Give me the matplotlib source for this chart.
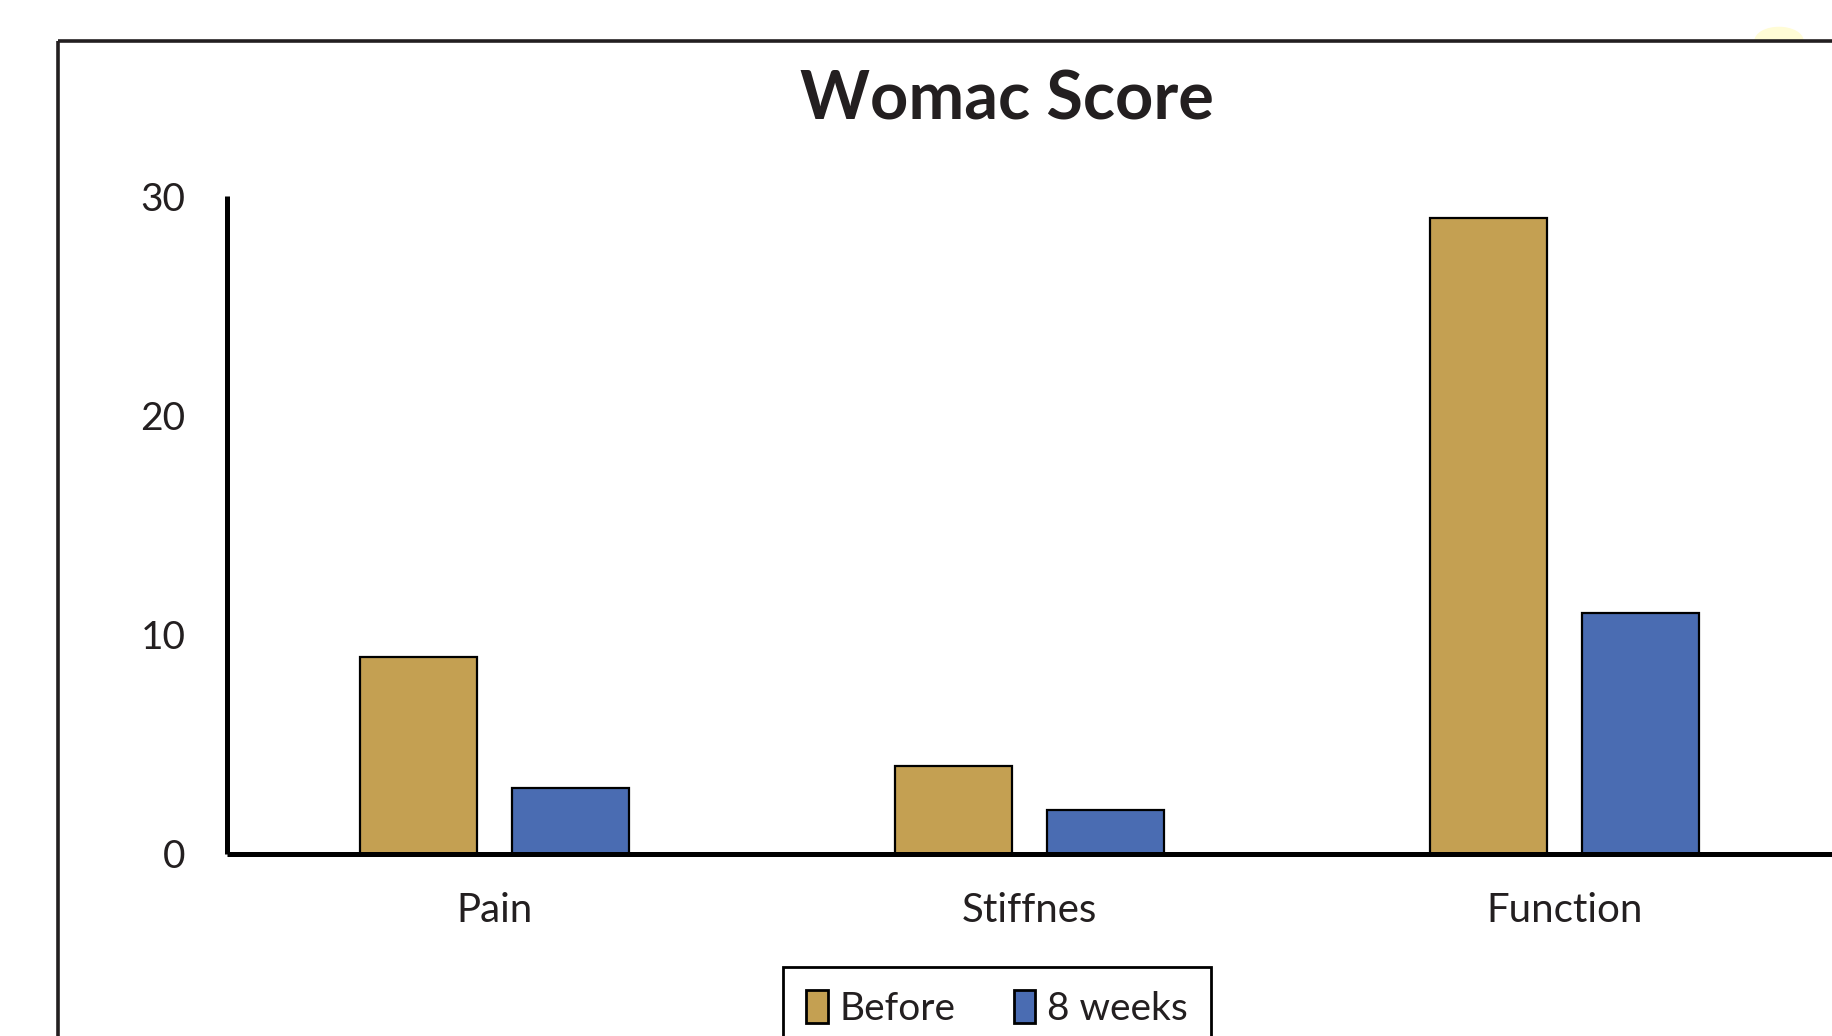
import numpy as np
import matplotlib
matplotlib.use("Agg")
import matplotlib.pyplot as plt
from matplotlib.patches import Wedge
from matplotlib.lines import Line2D

categories = ["Pain", "Stiffnes", "Function"]
before = [9, 4, 29]
after_8_weeks = [3, 2, 11]
series_names = ["Before", "8 weeks"]
y_ticks = [0, 10, 20, 30]

plt.rcParams['font.family'] = ['Lato', 'DejaVu Sans']
text_color = '#231f20'
gold = '#c4a052'
blue = '#4a6cb2'

W, H = 1832, 1036
fig = plt.figure(figsize=(W / 100, H / 100), dpi=100)

# outer frame (top and left edges only visible)
frame_x = 58 / W
frame_y = 1 - 41 / H
fig.add_artist(Line2D([frame_x, 1.0], [frame_y, frame_y], transform=fig.transFigure,
                      color=text_color, lw=2.6, solid_capstyle='butt'))
fig.add_artist(Line2D([frame_x, frame_x], [0, frame_y], transform=fig.transFigure,
                      color=text_color, lw=2.6, solid_capstyle='butt'))
# faint yellow blob peeking above the frame
fig.add_artist(Wedge((1779 / W, frame_y), 24 / W, 0, 180, transform=fig.transFigure,
                     color='#fffcd6', zorder=0))

ax = fig.add_axes([227 / W, 1 - 854 / H, 1 - 227 / W, (854 - 196) / H])
x = np.arange(len(categories))
width = 0.22
offset = 0.142
b1 = ax.bar(x - offset, before, width, color=gold, edgecolor='black', linewidth=1.6,
            label=series_names[0])
b2 = ax.bar(x + offset, after_8_weeks, width, color=blue, edgecolor='black', linewidth=1.6,
            label=series_names[1])

ax.set_xlim(-0.5, 2.5)
ax.set_ylim(0, 30)
ax.set_yticks(y_ticks)
ax.set_xticks(x)
ax.set_xticklabels(categories)
ax.tick_params(axis='y', length=0, labelsize=28, colors=text_color, pad=30)
ax.tick_params(axis='x', length=0, labelsize=29, colors=text_color, pad=27)
for s in ['top', 'right']:
    ax.spines[s].set_visible(False)
for s in ['left', 'bottom']:
    ax.spines[s].set_linewidth(3.6)
    ax.spines[s].set_color('black')
    ax.spines[s].set_capstyle('butt')

fig.text(1007 / W, 1 - 101 / H, "Womac Score", ha='center', va='center',
         fontsize=48, fontweight='bold', color=text_color)

leg = fig.legend(handles=[b1, b2], loc='upper center', bbox_to_anchor=(997 / W, 1 - 967 / H),
                 ncol=2, fontsize=28, frameon=True, fancybox=False, framealpha=1,
                 edgecolor='black', handlelength=0.55, handleheight=0.9, handletextpad=0.3,
                 columnspacing=1.5, borderpad=0.6, borderaxespad=0, labelcolor=text_color)
leg.get_frame().set_linewidth(2.0)
for h in leg.legend_handles:
    h.set_linewidth(2.0)

fig.savefig("out.png", dpi=100)
